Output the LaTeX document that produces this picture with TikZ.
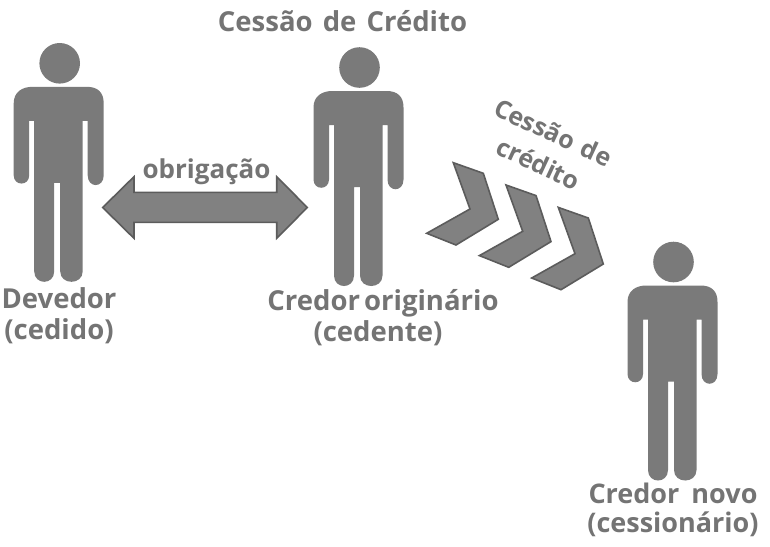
\documentclass[tikz,border=0pt]{standalone}
\usepackage{fontspec}
\setmainfont{Open Sans}
\definecolor{fig}{HTML}{7A7A7A}
\definecolor{edge}{HTML}{5C5C5C}
\definecolor{lbl}{HTML}{747474}
\tikzset{
  x=1pt,y=-1pt,
  figure/.style={fill=fig,draw=none},
  block/.style={fill=fig!95!white,draw=edge,line width=1.6pt,line join=miter},
  lab/.style={text=lbl,font=\bfseries\fontsize{27.5}{31}\selectfont,align=center,inner sep=0pt},
  pics/person/.style={code={
    \fill[figure] (0,0) circle[radius=20.3];
    \fill[figure] (-46,40) .. controls (-46,29) and (-38,23.5) .. (-27,23.5) -- (27,23.5)
      .. controls (38,23.5) and (44,29) .. (44,40)
      -- (44,112) .. controls (44,125) and (28,125) .. (28,112)
      -- (28,57.5) -- (23,57.5) -- (23,208)
      .. controls (23,222) and (0.5,222) .. (0.5,208)
      -- (0.5,119.5) -- (-5.5,119.5) -- (-5.5,208)
      .. controls (-5.5,222) and (-25.5,222) .. (-25.5,208)
      -- (-25.5,57.5) -- (-30.5,57.5) -- (-30.5,112)
      .. controls (-30.5,123) and (-46,123) .. (-46,112) -- cycle;
  }},
  pics/chevron/.style={code={
    \draw[block] (453.3,162.7) -- (483.3,173.3) -- (498.3,219.3) -- (456,245)
      -- (426.7,233.3) -- (470,209) -- cycle;
  }}
}
\begin{document}
\begin{tikzpicture}
\useasboundingbox (0,0) rectangle (770,546);
\fill[white] (0,0) rectangle (770,546);
\pic at (59.7,63.3) {person};
\pic at (359.5,67.5) {person};
\pic at (673.5,262) {person};
\draw[block] (102.7,207.5) -- (134,176.7) -- (134,192.3) -- (276.7,192.3) -- (276.7,176.7)
  -- (307.3,207.5) -- (276.7,238.3) -- (276.7,222.3) -- (134,222.3) -- (134,238.3) -- cycle;
\pic at (0,0) {chevron};
\pic at (52.7,22.3) {chevron};
\pic at (105,44.7) {chevron};
\node[lab] (titulo) at (342.5,21) {Cessão\hspace{3pt} de\hspace{3pt} Crédito};
\node[lab,font=\bfseries\fontsize{26}{30}\selectfont] (obrig) at (206.5,172) {obrigação};
\node[lab] (dev) at (59,316) {Devedor\\(cedido)};
\node[lab] (orig) at (383,318) {Credor\hspace{-3pt} originário\\(cedente)\hspace{10pt}\null};
\node[lab,font=\bfseries\fontsize{27}{29}\selectfont] (novo) at (673,510) {Credor\hspace{5pt} novo\\(cessionário)};
\node[lab,rotate=-25,font=\bfseries\fontsize{25}{34}\selectfont] (ces) at (546,148) {Cessão\hspace{3pt} de\\crédito};
\end{tikzpicture}
\end{document}
